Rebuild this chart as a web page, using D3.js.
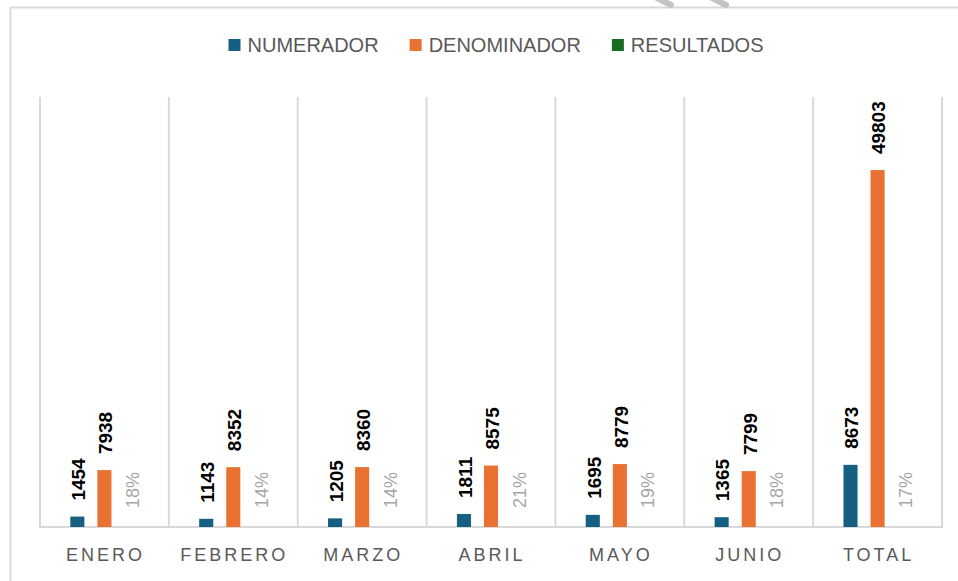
<!DOCTYPE html>
<head>
  <meta charset="utf-8">
  <script src="https://d3js.org/d3.v7.min.js"></script>
  <style>
    body { margin: 0; background: #fff; }
    svg { display: block; font-family: 'Liberation Sans', Arial, sans-serif; }
    .grid line { stroke: #D9D9D9; stroke-width: 2; }
    .xlab { fill: #595959; font-size: 18px; letter-spacing: 3px; }
    .val { fill: #000; font-size: 19px; font-weight: bold; }
    .pct { fill: #A6A6A6; font-size: 18px; }
    .leg { fill: #595959; font-size: 20px; }
  </style>
</head>
<body>
<script>

var months = ["ENERO", "FEBRERO", "MARZO", "ABRIL", "MAYO", "JUNIO", "TOTAL"];
var numerador = [1454, 1143, 1205, 1811, 1695, 1365, 8673];
var denominador = [7938, 8352, 8360, 8575, 8779, 7799, 49803];
var resultados = [0.18, 0.14, 0.14, 0.21, 0.19, 0.18, 0.17];
var seriesNames = ["NUMERADOR", "DENOMINADOR", "RESULTADOS"];
var colors = ["#156082", "#E97132", "#196B24"];

var width = 958, height = 581;
var plot = { left: 40, right: 942, top: 97, bottom: 527 };

var svg = d3.select("body").append("svg")
    .attr("width", width)
    .attr("height", height);

// outer frame (top + left only visible)
svg.append("line").attr("x1", 10).attr("x2", width).attr("y1", 7.5).attr("y2", 7.5)
    .attr("stroke", "#D9D9D9").attr("stroke-width", 2);
svg.append("line").attr("x1", 10.5).attr("x2", 10.5).attr("y1", 7).attr("y2", height)
    .attr("stroke", "#D9D9D9").attr("stroke-width", 2);
// small grey marks above the frame
svg.append("line").attr("x1", 657).attr("y1", -2).attr("x2", 671).attr("y2", 5)
    .attr("stroke", "#C4C4C4").attr("stroke-width", 6).attr("stroke-linecap", "round");
svg.append("line").attr("x1", 712).attr("y1", -2).attr("x2", 726).attr("y2", 5)
    .attr("stroke", "#C4C4C4").attr("stroke-width", 6).attr("stroke-linecap", "round");

var x0 = d3.scaleBand().domain(months).range([plot.left, plot.right]);
var x1 = d3.scaleBand().domain(seriesNames).range([0, x0.bandwidth()])
    .paddingInner(0.48).paddingOuter(1.12);
var y = d3.scaleLinear().domain([0, 60000]).range([plot.bottom, plot.top]);

// vertical separators
var grid = svg.append("g").attr("class", "grid");
grid.selectAll("line")
    .data(months.map(function(m) { return x0(m); }).concat([plot.right]))
  .enter().append("line")
    .attr("x1", function(d) { return d; })
    .attr("x2", function(d) { return d; })
    .attr("y1", plot.top)
    .attr("y2", plot.bottom);
grid.append("line")
    .attr("x1", plot.left - 1).attr("x2", plot.right + 1)
    .attr("y1", plot.bottom).attr("y2", plot.bottom);

var rows = months.map(function(m, i) {
  return { month: m, vals: [numerador[i], denominador[i], resultados[i]] };
});

var groups = svg.selectAll(".grp")
    .data(rows)
  .enter().append("g")
    .attr("class", "grp")
    .attr("transform", function(d) { return "translate(" + x0(d.month) + ",0)"; });

groups.selectAll("rect")
    .data(function(d) { return d.vals.map(function(v, j) { return { s: seriesNames[j], v: v, j: j }; }); })
  .enter().append("rect")
    .attr("x", function(d) { return x1(d.s); })
    .attr("width", x1.bandwidth())
    .attr("y", function(d) { return y(d.v); })
    .attr("height", function(d) { return y(0) - y(d.v); })
    .attr("fill", function(d) { return colors[d.j]; });

groups.selectAll("text.lbl")
    .data(function(d) { return d.vals.map(function(v, j) { return { s: seriesNames[j], v: v, j: j }; }); })
  .enter().append("text")
    .attr("class", function(d) { return d.j < 2 ? "lbl val" : "lbl pct"; })
    .attr("transform", function(d) {
      var cx = x1(d.s) + x1.bandwidth() / 2 + 1;
      var gap = d.j < 2 ? 16 : 19;
      return "translate(" + cx + "," + (y(d.v) - gap) + ") rotate(-90)";
    })
    .attr("dy", "0.36em")
    .text(function(d) { return d.j < 2 ? d.v : Math.round(d.v * 100) + "%"; });

// category labels
svg.selectAll(".xlab")
    .data(months)
  .enter().append("text")
    .attr("class", "xlab")
    .attr("x", function(d) { return x0(d) + x0.bandwidth() / 2 + 1; })
    .attr("y", 561)
    .attr("text-anchor", "middle")
    .text(function(d) { return d; });

// legend
var legend = svg.append("g");
var lx = 0;
seriesNames.forEach(function(name, i) {
  var g = legend.append("g").attr("transform", "translate(" + lx + ",0)");
  g.append("rect").attr("x", 0).attr("y", 39).attr("width", 12).attr("height", 12)
      .attr("fill", colors[i]);
  var t = g.append("text").attr("class", "leg").attr("x", 19).attr("y", 52).text(name);
  lx += 19 + t.node().getComputedTextLength() + 31;
});
var legW = lx - 31;
legend.attr("transform", "translate(" + (496 - legW / 2) + ",0)");

</script>
</body>
